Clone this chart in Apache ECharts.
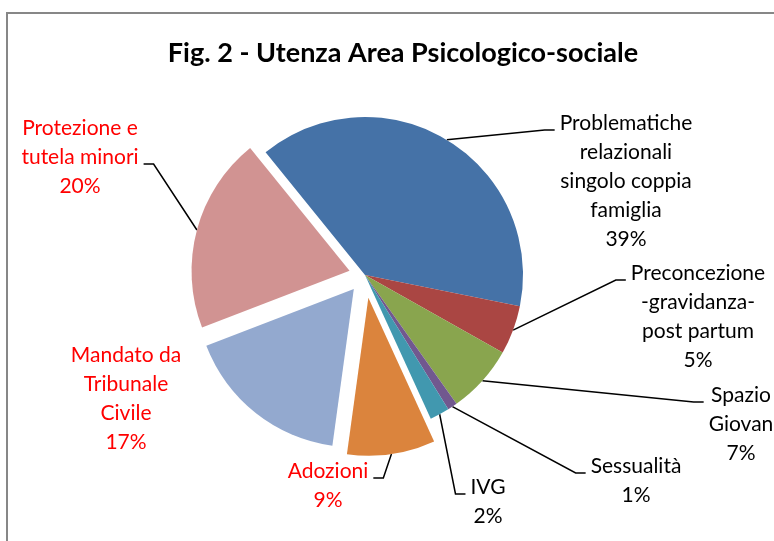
<!DOCTYPE html>
<html>
<head>
<meta charset="utf-8">
<script src="https://cdn.jsdelivr.net/npm/echarts@6/dist/echarts.min.js"></script>
<style>
  html, body { margin: 0; padding: 0; background: #fff; }
  #chart { width: 774px; height: 541px; }
</style>
</head>
<body>
<div id="chart"></div>
<script>
// categorie e valori (percentuali)
var categories = ['Problematiche relazionali singolo coppia famiglia', 'Preconcezione -gravidanza- post partum',
  'Spazio Giovani', 'Sessualità', 'IVG', 'Adozioni', 'Mandato da Tribunale Civile', 'Protezione e tutela minori'];
var values = [39, 5, 7, 1, 2, 9, 17, 20];
// testo delle etichette come va a capo nell'originale
var labelTexts = [
  ['Problematiche', 'relazionali', 'singolo coppia', 'famiglia'],
  ['Preconcezione', '-gravidanza-', 'post partum'],
  ['Spazio', 'Giovan'],
  ['Sessualità'],
  ['IVG'],
  ['Adozioni'],
  ['Mandato da', 'Tribunale', 'Civile'],
  ['Protezione e', 'tutela minori']
];

// stile
var colors = ['#4572A7', '#AA4643', '#89A54E', '#71588F', '#4198AF', '#DB843D', '#93A9CF', '#D19392'];
var labelColors = ['#000', '#000', '#000', '#000', '#000', '#f00', '#f00', '#f00'];
// spostamento delle fette esplose (px)
var explode = [0, 0, 0, 0, 0, 23, 18, 16];
// [centro x, centro prima riga y, lato della linea (-1 sx, 1 dx, 0 nessuna), riga di aggancio]
var labelPos = [
  [626, 123, -1, 0],
  [698, 273, -1, 0],
  [741, 395, -1, 0],
  [636, 466, -1, 0],
  [488, 487, -1, 0],
  [328, 471, 1, 0],
  [126, 355, 0, 0],
  [80, 128, 1, 1]
];
var center = [365, 275], radius = 158, startAngle = 129, lh = 29;

var total = values.reduce(function (a, b) { return a + b; }, 0);
var midAngles = [], acc = 0;
values.forEach(function (v) {
  midAngles.push((startAngle - (acc + v / 2) / total * 360) * Math.PI / 180);
  acc += v;
});

function pieBase() {
  return {
    type: 'pie',
    radius: radius,
    startAngle: startAngle,
    clockwise: true,
    avoidLabelOverlap: false,
    emphasis: { disabled: true },
    itemStyle: { borderWidth: 0 }
  };
}

// serie principale: fette non esplose + tutte le etichette
var main = pieBase();
main.center = center;
main.label = { show: true, position: 'outside', fontFamily: 'Lato', fontSize: 21, lineHeight: lh };
main.labelLine = { show: true, lineStyle: { color: '#000', width: 1.5 } };
main.labelLayout = function (p) {
  var i = p.dataIndex, lp = labelPos[i];
  var res = { x: lp[0], y: lp[1] - lh / 2, align: 'center', verticalAlign: 'top' };
  if (lp[2] !== 0) {
    var r = radius + explode[i];
    var a = midAngles[i];
    var start = [center[0] + r * Math.cos(a), center[1] - r * Math.sin(a)];
    var ey = lp[1] + lp[3] * lh + 7;
    var ex = lp[0] + lp[2] * (p.labelRect.width / 2 + 5);
    res.labelLinePoints = [start, [ex + lp[2] * 10, ey], [ex, ey]];
  }
  return res;
};
main.data = categories.map(function (c, i) {
  return {
    name: c,
    value: values[i],
    itemStyle: { color: explode[i] ? 'rgba(0,0,0,0)' : colors[i] },
    label: { color: labelColors[i], formatter: labelTexts[i].join('\n') + '\n{d}%' },
    labelLine: { show: labelPos[i][2] !== 0 }
  };
});

var series = [main];
// una serie per ogni fetta esplosa, con il centro spostato lungo la bisettrice
explode.forEach(function (off, k) {
  if (!off) return;
  var s = pieBase();
  s.silent = true;
  s.center = [center[0] + off * Math.cos(midAngles[k]), center[1] - off * Math.sin(midAngles[k])];
  s.label = { show: false };
  s.labelLine = { show: false };
  s.data = categories.map(function (c, i) {
    return { name: c, value: values[i], itemStyle: { color: i === k ? colors[i] : 'rgba(0,0,0,0)' } };
  });
  series.push(s);
});

var chart = echarts.init(document.getElementById('chart'));
chart.setOption({
  animation: false,
  title: {
    text: 'Fig. 2 - Utenza Area Psicologico-sociale',
    left: 398, top: 35, textAlign: 'center',
    textStyle: { fontFamily: 'Lato', fontWeight: 'bold', fontSize: 27, color: '#000' }
  },
  graphic: [{
    type: 'rect', shape: { x: 7, y: 13, width: 800, height: 600 },
    style: { fill: 'none', stroke: '#878787', lineWidth: 2 }, silent: true
  }],
  series: series
});
</script>
</body>
</html>
